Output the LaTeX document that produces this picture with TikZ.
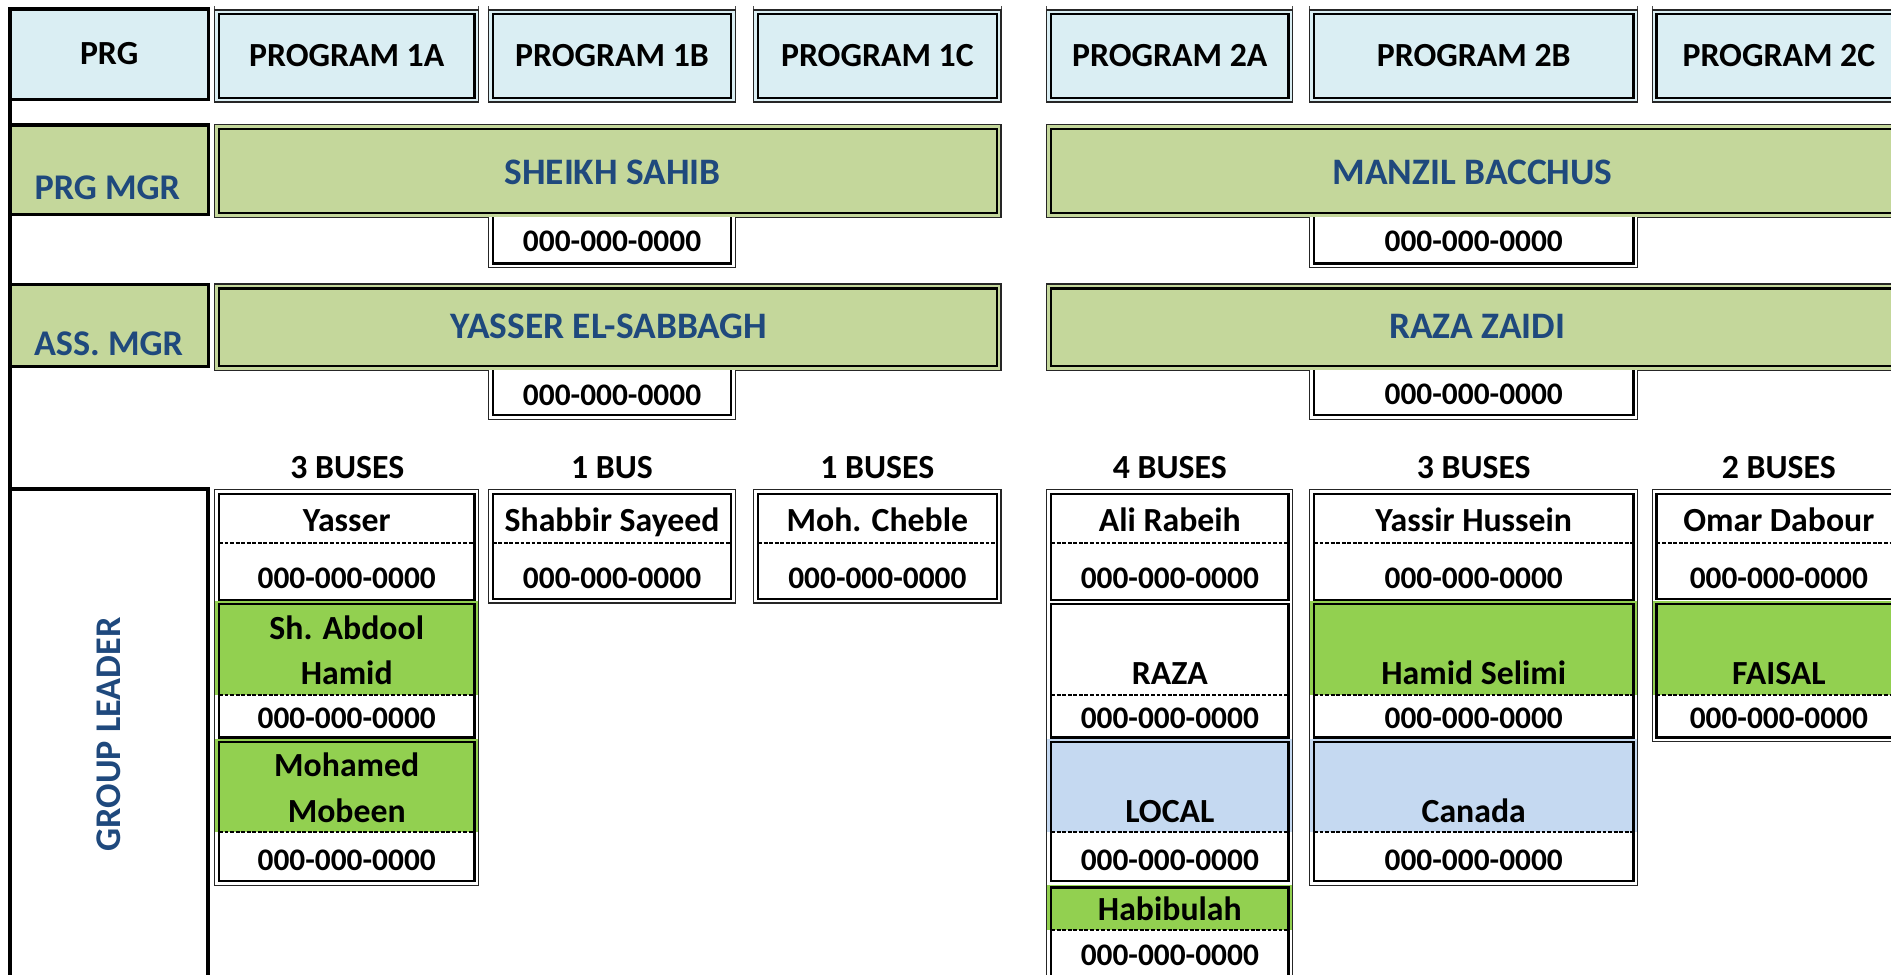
\documentclass[tikz,border=0pt]{standalone}
\usepackage{fontspec}
\setmainfont{Carlito}
\definecolor{hdrblue}{HTML}{DAEEF3}
\definecolor{mgrgreen}{HTML}{C4D79B}
\definecolor{txtblue}{HTML}{1F497D}
\definecolor{brgreen}{HTML}{92D050}
\definecolor{cellblue}{HTML}{C5D9F1}
\newcommand\dblbox[5]{%
  \fill[#5] (#1,#2) rectangle (#3,#4);
  \draw[outerln] (#1,#2) rectangle (#3,#4);
  \draw[innerln] ({#1+3.6},{#2+3.6}) rectangle ({#3-3.6},{#4-3.6});
}
\newcommand\dblopen[4]{%
  \fill[white] (#1,#2) rectangle (#3,#4);
  \draw[outerln] (#1,#2) -- (#1,#4) -- (#3,#4) -- (#3,#2);
  \draw[innerln] ({#1+3.6},#2) -- ({#1+3.6},{#4-3.6}) -- ({#3-3.6},{#4-3.6}) -- ({#3-3.6},#2);
}
% x1 x2 top dash bottom fill
\newcommand\gpair[6]{%
  \fill[#6] ({#1+0.5},{#3-2.5}) rectangle ({#2-0.5},#4);
  \draw[innerln] ({#1+3.6},#3) rectangle ({#2-3.6},#5);
  \draw[dashln] ({#1+3.6},#4) -- ({#2-3.6},#4);
}
\begin{document}
\begin{tikzpicture}[x=0.5pt,y=-0.5pt,
  outerln/.style={line width=0.45pt, draw=black!85},
  innerln/.style={line width=0.95pt, draw=black},
  heavyln/.style={line width=1.3pt, draw=black},
  tickln/.style={line width=0.35pt, draw=black!70},
  dashln/.style={line width=0.9pt, draw=black, dash pattern=on 1.6pt off 0.7pt},
  hdr/.style={inner sep=0pt, text depth=0pt, text height=8.85pt, font=\fontsize{14}{16}\selectfont\bfseries},
  mgr/.style={inner sep=0pt, text depth=0pt, text height=9.8pt, text=txtblue, font=\fontsize{15.5}{18}\selectfont\bfseries},
  role/.style={inner sep=0pt, text depth=0pt, text height=9.5pt, text=txtblue, font=\fontsize{15}{18}\selectfont\bfseries},
  nm/.style={inner sep=0pt, text depth=0pt, text height=8.85pt, font=\fontsize{14}{16}\selectfont\bfseries},
  ph/.style={inner sep=0pt, text depth=0pt, text height=8.2pt, font=\fontsize{13}{15}\selectfont\bfseries}
]
\useasboundingbox (0,0) rectangle (1568,808);
\clip (0,0) rectangle (1568,808);
\fill[white] (0,0) rectangle (1568,808);

% ---------- label column ----------
\fill[hdrblue] (8.3,7.5) rectangle (173,82.5);
\draw[heavyln] (8.3,7.5) rectangle (173,82.5);
\fill[mgrgreen] (8.3,103.6) rectangle (173,178);
\draw[heavyln] (8.3,103.6) rectangle (173,178);
\fill[mgrgreen] (8.3,236) rectangle (173,304);
\draw[heavyln] (8.3,236) rectangle (173,304);
\draw[heavyln] (8.3,7.5) -- (8.3,815);
\draw[heavyln] (8.3,405.5) -- (172.5,405.5) -- (172.5,815);

\node[hdr] (prg) at (90.5,45) {PRG};
\node[role] (prgmgr) at (89,156) {PRG MGR};
\node[role] (assmgr) at (90,285) {ASS. MGR};
\node[role, rotate=90] (gl) at (90.5,609) {GROUP LEADER};

% ---------- header row ----------
\foreach \a/\b in {178/397,405/610,625/830,868/1072,1086/1358,1370/1580}{
  \draw[tickln] (\a,5) -- (\a,8.3);
  \draw[tickln] (\b,5) -- (\b,8.3);
}
\dblbox{178}{8.3}{397}{84.6}{hdrblue}
\dblbox{405}{8.3}{610}{84.6}{hdrblue}
\dblbox{625}{8.3}{830}{84.6}{hdrblue}
\dblbox{868}{8.3}{1072}{84.6}{hdrblue}
\dblbox{1086}{8.3}{1358}{84.6}{hdrblue}
\dblbox{1370}{8.3}{1580}{84.6}{hdrblue}
\node[hdr] (p1a) at (287.5,46) {PROGRAM 1A};
\node[hdr] (p1b) at (507.5,46) {PROGRAM 1B};
\node[hdr] (p1c) at (727.5,46) {PROGRAM 1C};
\node[hdr] (p2a) at (970,46) {PROGRAM 2A};
\node[hdr] (p2b) at (1222,46) {PROGRAM 2B};
\node[hdr] (p2c) at (1475,46) {PROGRAM 2C};

% ---------- program managers ----------
\dblbox{178}{103.6}{830}{180}{mgrgreen}
\dblbox{868}{103.6}{1580}{180}{mgrgreen}
\node[mgr] (pm1) at (508,143) {SHEIKH SAHIB};
\node[mgr] (pm2) at (1221,143) {MANZIL BACCHUS};
\dblopen{405}{180}{610}{222}
\dblopen{1086}{180}{1358}{222}
\node[ph] (pm1ph) at (507.5,200) {000-000-0000};
\node[ph] (pm2ph) at (1222,200) {000-000-0000};

% ---------- assistant managers ----------
\dblbox{178}{235.5}{830}{307}{mgrgreen}
\dblbox{868}{235.5}{1580}{307}{mgrgreen}
\node[mgr] (am1) at (505,271) {YASSER EL-SABBAGH};
\node[mgr] (am2) at (1225,271) {RAZA ZAIDI};
\dblopen{405}{307}{610}{348}
\dblopen{1086}{307}{1358}{348}
\node[ph] (am1ph) at (507.5,328) {000-000-0000};
\node[ph] (am2ph) at (1222,327) {000-000-0000};

% ---------- bus counts ----------
\node[hdr] (b1a) at (288,388) {3 BUSES};
\node[hdr] (b1b) at (507.5,388) {1 BUS};
\node[hdr] (b1c) at (727.5,388) {1 BUSES};
\node[hdr] (b2a) at (970,388) {4 BUSES};
\node[hdr] (b2b) at (1222,388) {3 BUSES};
\node[hdr] (b2c) at (1475,388) {2 BUSES};

% ---------- group leaders ----------
% column 1A
\fill[white] (178,406) rectangle (397,734);
\gpair{178}{397}{409.6}{450}{497.5}{white}
\gpair{178}{397}{501}{576}{611.5}{brgreen}
\gpair{178}{397}{615}{690}{730.5}{brgreen}
\draw[outerln] (178,406) rectangle (397,734);
% column 1B
\gpair{405}{610}{409.6}{450}{496.5}{white}
\draw[outerln] (405,406) rectangle (610,500);
% column 1C
\gpair{625}{830}{409.6}{450}{496.5}{white}
\draw[outerln] (625,406) rectangle (830,500);
% column 2A
\gpair{868}{1072}{409.6}{450}{497.5}{white}
\gpair{868}{1072}{501}{576}{611.5}{white}
\gpair{868}{1072}{615}{690}{730.5}{cellblue}
\gpair{868}{1072}{736}{771}{830}{brgreen}
\draw[outerln] (868,406) rectangle (1072,835);
% column 2B
\gpair{1086}{1358}{409.6}{450}{497.5}{white}
\gpair{1086}{1358}{501}{576}{611.5}{brgreen}
\gpair{1086}{1358}{615}{690}{730.5}{cellblue}
\draw[outerln] (1086,406) rectangle (1358,734);
% column 2C
\gpair{1370}{1580}{409.6}{450}{496.5}{white}
\gpair{1370}{1580}{501}{576}{611.5}{brgreen}
\draw[outerln] (1370,406) rectangle (1580,615);

% texts 1A
\node[nm] (g1) at (287.5,432) {Yasser};
\node[ph] (g1ph) at (287.5,480) {000-000-0000};
\node[nm] (g2a) at (287.5,521) {Sh. Abdool};
\node[nm] (g2b) at (287.5,559) {Hamid};
\node[ph] (g2ph) at (287.5,596) {000-000-0000};
\node[nm] (g3a) at (287.5,635) {Mohamed};
\node[nm] (g3b) at (287.5,673) {Mobeen};
\node[ph] (g3ph) at (287.5,714) {000-000-0000};
% 1B, 1C
\node[nm] (g4) at (507.5,432) {Shabbir Sayeed};
\node[ph] (g4ph) at (507.5,480) {000-000-0000};
\node[nm] (g5) at (727.5,432) {Moh. Cheble};
\node[ph] (g5ph) at (727.5,480) {000-000-0000};
% 2A
\node[nm] (g6) at (970,432) {Ali Rabeih};
\node[ph] (g6ph) at (970,480) {000-000-0000};
\node[nm] (g7) at (970,559) {RAZA};
\node[ph] (g7ph) at (970,596) {000-000-0000};
\node[nm] (g8) at (970,673) {LOCAL};
\node[ph] (g8ph) at (970,714) {000-000-0000};
\node[nm] (g9) at (970,754) {Habibulah};
\node[ph] (g9ph) at (970,792) {000-000-0000};
% 2B
\node[nm] (g10) at (1222,432) {Yassir Hussein};
\node[ph] (g10ph) at (1222,480) {000-000-0000};
\node[nm] (g11) at (1222,559) {Hamid Selimi};
\node[ph] (g11ph) at (1222,596) {000-000-0000};
\node[nm] (g12) at (1222,673) {Canada};
\node[ph] (g12ph) at (1222,714) {000-000-0000};
% 2C
\node[nm] (g13) at (1475,432) {Omar Dabour};
\node[ph] (g13ph) at (1475,480) {000-000-0000};
\node[nm] (g14) at (1475,559) {FAISAL};
\node[ph] (g14ph) at (1475,596) {000-000-0000};
\end{tikzpicture}
\end{document}
